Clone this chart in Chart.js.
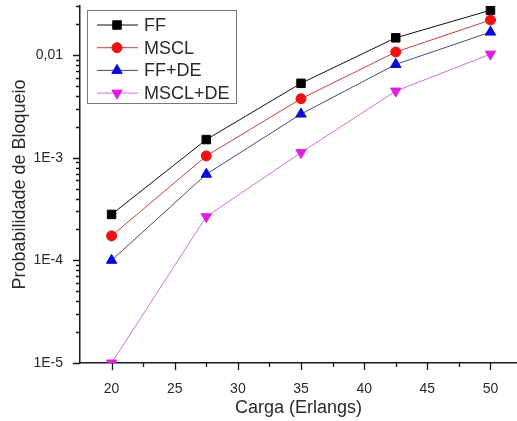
<!DOCTYPE html>
<html>
<head>
<meta charset="utf-8">
<script src="https://cdn.jsdelivr.net/npm/chart.js@4.4.1/dist/chart.umd.min.js"></script>
<style>
  html, body { margin: 0; padding: 0; background: #fff; }
  #wrap { width: 517px; height: 421px; }
</style>
</head>
<body>
<div id="wrap"><canvas id="grafico"></canvas></div>
<script>
// dados
const carga = [20, 27.5, 35, 42.5, 50];
const ff = [2.8e-4, 1.5e-3, 5.3e-3, 0.0147, 0.0273];
const mscl = [1.73e-4, 1.04e-3, 3.75e-3, 0.0107, 0.0219];
const ffDe = [1.0e-4, 6.9e-4, 2.66e-3, 8.1e-3, 0.0167];
const msclDe = [1.0e-5, 2.66e-4, 1.12e-3, 4.45e-3, 0.0102];

const nomes = ["FF", "MSCL", "FF+DE", "MSCL+DE"];
const xTicks = [20, 25, 30, 35, 40, 45, 50];
const yTicks = [1e-5, 1e-4, 1e-3, 1e-2];
const yTickLabels = ["1E-5", "1E-4", "1E-3", "0,01"];

const fonte = "'Liberation Sans', Arial, sans-serif";
const corTexto = "#2a2a2a";

function pontos(ys) {
  return carga.map((x, i) => ({ x: x, y: ys[i] }));
}

function serie(label, ys, cor, corLinha, estilo, raio, rot) {
  return {
    label: label,
    data: pontos(ys),
    showLine: true,
    borderColor: corLinha,
    borderWidth: 1,
    backgroundColor: cor,
    pointBackgroundColor: cor,
    pointBorderColor: cor,
    pointBorderWidth: 1,
    pointStyle: estilo,
    pointRadius: raio,
    pointRotation: rot || 0,
    pointHoverRadius: raio,
  };
}

const datasets = [
  serie(nomes[0], ff, "#000000", "#111111", "rect", 6),
  serie(nomes[1], mscl, "#ee1111", "#c84040", "circle", 5),
  serie(nomes[2], ffDe, "#0a0ad8", "#404c80", "triangle", 6),
  serie(nomes[3], msclDe, "#e020e0", "#d070d8", "triangle", 6, 180),
];

// sem folgas automáticas nas escalas
function semFolga(s) {
  s.paddingTop = 0;
  s.paddingBottom = 0;
  s.paddingLeft = 0;
  s.paddingRight = 0;
}

// ticks menores / maiores desenhados à mão, posição via escala
const ticksPlugin = {
  id: "ticksOrigin",
  afterDraw(chart) {
    const ctx = chart.ctx;
    const xs = chart.scales.x;
    const ys = chart.scales.y;
    const area = chart.chartArea;
    ctx.save();
    ctx.strokeStyle = "#1a1a1a";
    ctx.lineWidth = 1.3;
    ctx.beginPath();
    // eixo y: décadas + 2..9
    for (let e = -5; e <= -2; e++) {
      for (let m = 1; m <= 9; m++) {
        const v = m * Math.pow(10, e);
        if (v > ys.max) break;
        const py = Math.round(ys.getPixelForValue(v)) + 0.5;
        const len = m === 1 ? 7 : 4;
        ctx.moveTo(area.left - len, py);
        ctx.lineTo(area.left, py);
      }
    }
    // eixo x: 20, 22.5, 25...
    for (let v = 20; v <= 50; v += 2.5) {
      const px = Math.round(xs.getPixelForValue(v)) + 0.5;
      const len = v % 5 === 0 ? 7 : 4;
      ctx.moveTo(px, area.bottom);
      ctx.lineTo(px, area.bottom + len);
    }
    ctx.stroke();

    // legenda com moldura
    const bx = area.left + 7, by = area.top + 4, bw = 149, bh = 93;
    ctx.strokeStyle = "#7a7a7a";
    ctx.lineWidth = 1;
    ctx.strokeRect(bx + 0.5, by + 0.5, bw, bh);
    ctx.font = "18px " + fonte;
    ctx.textBaseline = "middle";
    ctx.fillStyle = corTexto;
    chart.data.datasets.forEach((ds, i) => {
      const cy = by + 15 + i * 22.7;
      ctx.strokeStyle = ds.borderColor;
      ctx.lineWidth = 1;
      ctx.beginPath();
      ctx.moveTo(bx + 10, cy);
      ctx.lineTo(bx + 51, cy);
      ctx.stroke();
      ctx.fillStyle = ds.pointBackgroundColor;
      ctx.strokeStyle = ds.pointBorderColor;
      Chart.helpers.drawPoint(ctx, {
        pointStyle: ds.pointStyle,
        radius: ds.pointRadius,
        rotation: ds.pointRotation,
        borderWidth: 1,
      }, bx + 30, cy);
      ctx.fillStyle = corTexto;
      ctx.fillText(ds.label, bx + 57, cy + 1);
    });
    ctx.restore();
  },
};

new Chart(document.getElementById("grafico"), {
  type: "scatter",
  data: { datasets: datasets },
  options: {
    responsive: true,
    maintainAspectRatio: false,
    animation: false,
    events: [],
    layout: { autoPadding: false, padding: { top: 6, right: 0, bottom: 0, left: 0 } },
    plugins: {
      legend: { display: false },
      tooltip: { enabled: false },
    },
    scales: {
      x: {
        type: "linear",
        min: 17.5,
        max: 52.1,
        afterBuildTicks: (s) => { s.ticks = xTicks.map((v) => ({ value: v })); },
        afterFit: (s) => { s.height = 58; semFolga(s); },
        grid: { display: false },
        border: { display: true, color: "#1a1a1a", width: 1.5 },
        ticks: {
          padding: 10,
          color: corTexto,
          font: { family: fonte, size: 14 },
          maxRotation: 0,
          autoSkip: false,
        },
        title: {
          display: true,
          text: "Carga (Erlangs)",
          color: corTexto,
          font: { family: fonte, size: 18 },
          padding: { top: 0, bottom: 2 },
        },
      },
      y: {
        type: "logarithmic",
        min: 1e-5,
        max: 0.03,
        afterBuildTicks: (s) => { s.ticks = yTicks.map((v) => ({ value: v })); },
        afterFit: (s) => { s.width = 80; semFolga(s); },
        grid: { display: false },
        border: { display: true, color: "#1a1a1a", width: 1.5 },
        ticks: {
          padding: 9,
          color: corTexto,
          font: { family: fonte, size: 14 },
          autoSkip: false,
          callback: (v) => {
            const i = yTicks.indexOf(v);
            return i >= 0 ? yTickLabels[i] : "";
          },
        },
        title: {
          display: true,
          text: "Probabilidade de Bloqueio",
          color: corTexto,
          font: { family: fonte, size: 18 },
          padding: { top: 9, bottom: 0 },
        },
      },
    },
  },
  plugins: [ticksPlugin],
});
</script>
</body>
</html>
